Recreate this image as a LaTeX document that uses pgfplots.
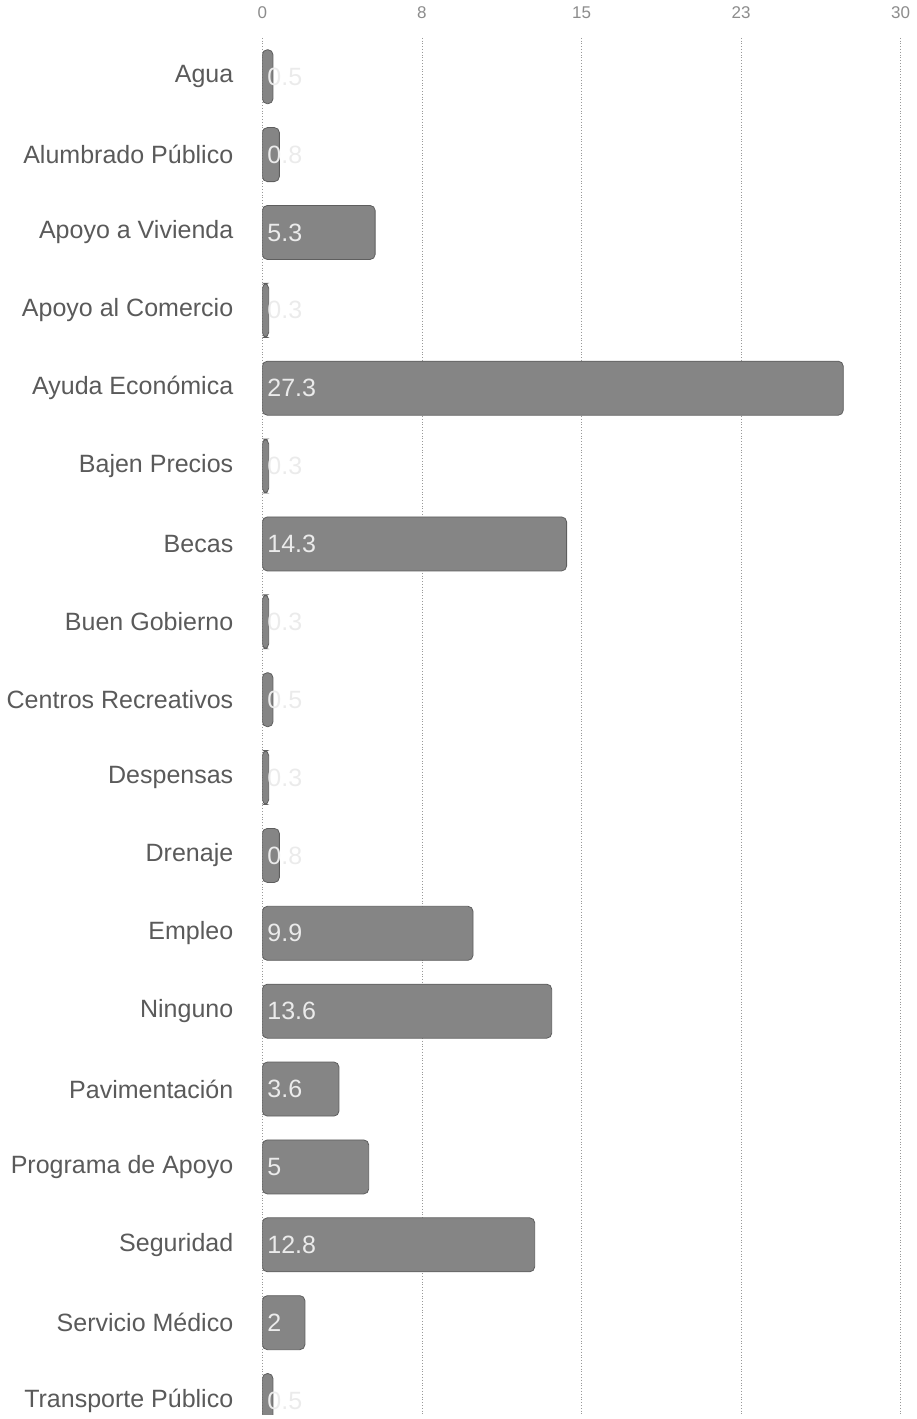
\documentclass[border=0pt]{standalone}
\usepackage{pgfplots}
\pgfplotsset{compat=1.18}
\usepackage{pgfplotstable}
\usepackage{fontspec}
\setmainfont{Liberation Sans}

\definecolor{bargray}{HTML}{858585}
\definecolor{bardark}{HTML}{5E5E5E}
\definecolor{labgray}{HTML}{5A5A5A}
\definecolor{tickgray}{HTML}{8C8C8C}

% y = row (0 at top), v = percent, zero = start of the bar for the value label
\pgfplotstableread{
y v zero
0 0.5 0
1 0.8 0
2 5.3 0
3 0.3 0
4 27.3 0
5 0.3 0
6 14.3 0
7 0.3 0
8 0.5 0
9 0.3 0
10 0.8 0
11 9.9 0
12 13.6 0
13 3.6 0
14 5 0
15 12.8 0
16 2 0
17 0.5 0
}\datatable

\begin{document}
\begin{tikzpicture}
\begin{axis}[
    scale only axis,
    width=319pt, height=688pt,
    xmin=0, xmax=30,
    ymin=-0.5, ymax=17.18,
    y dir=reverse,
    axis line style={draw=none},
    tick style={draw=none},
    xticklabel pos=upper,
    xtick={0,7.5,15,22.5,30},
    xticklabels={0,8,15,23,30},
    xticklabel style={font=\fontsize{8.5}{10}\selectfont, text=tickgray, yshift=6pt},
    ytick={0,...,17},
    yticklabels={Agua, Alumbrado Público, Apoyo a Vivienda, Apoyo al Comercio,
        Ayuda Económica, Bajen Precios, Becas, Buen Gobierno, Centros Recreativos,
        Despensas, Drenaje, Empleo, Ninguno, Pavimentación, Programa de Apoyo,
        Seguridad, Servicio Médico, Transporte Público},
    yticklabel style={font=\fontsize{12.5}{14}\selectfont, text=labgray, xshift=-11pt},
    xmajorgrids,
    grid style={densely dotted, black!40},
    /pgf/number format/assume math mode=true,
]
\addplot[xbar, bar width=27pt, bar shift=0pt, fill=bargray, draw=bardark,
    rounded corners=2.5pt] table[x=v, y=y] {\datatable};
\addplot[only marks, mark=none, point meta=explicit,
    nodes near coords,
    nodes near coords style={anchor=west, xshift=-1pt, text=white!92!black,
        font=\fontsize{12.5}{14}\selectfont}]
    table[x=zero, y=y, meta=v] {\datatable};
\end{axis}
\end{tikzpicture}
\end{document}
